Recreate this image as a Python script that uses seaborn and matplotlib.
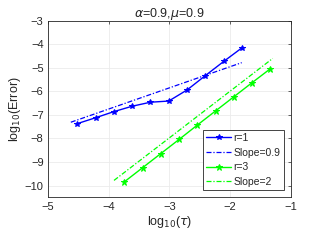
import numpy as np
import pandas as pd
import matplotlib
matplotlib.use("Agg")
import matplotlib.pyplot as plt
import seaborn as sns

# data
x_r1 = [-4.515, -4.214, -3.913, -3.612, -3.311, -3.010, -2.709, -2.408, -2.107, -1.806]
y_r1 = [-7.37, -7.12, -6.86, -6.63, -6.46, -6.41, -5.94, -5.33, -4.73, -4.15]
x_s1 = [-4.62, -1.81]
y_s1 = [-7.31, -4.78]
x_r3 = [-3.74, -3.44, -3.14, -2.84, -2.54, -2.24, -1.94, -1.64, -1.34]
y_r3 = [-9.84, -9.24, -8.64, -8.04, -7.43, -6.83, -6.23, -5.63, -5.04]
x_s2 = [-3.91, -1.30]
y_s2 = [-9.78, -4.60]
labels = ["r=1", "Slope=0.9", "r=3", "Slope=2"]

sns.set_style("whitegrid")
plt.rcParams['font.family'] = ['Liberation Sans', 'DejaVu Sans']
plt.rcParams['mathtext.fontset'] = 'dejavusans'

fig = plt.figure(figsize=(3.21, 2.41), dpi=100)
ax = fig.add_axes([0.1486, 0.181, 0.7579, 0.733])

blue = (0, 0, 1)
green = (0, 1, 0)
dd = (4, 1.5, 1, 1.5)
sns.lineplot(x=x_r1, y=y_r1, ax=ax, color=blue, lw=1, marker='*', markersize=4,
             markeredgecolor=blue, label=labels[0], sort=False)
sns.lineplot(x=x_s1, y=y_s1, ax=ax, color=blue, lw=0.9, label=labels[1], sort=False)
ax.lines[-1].set_dashes(dd)
sns.lineplot(x=x_r3, y=y_r3, ax=ax, color=green, lw=1, marker='*', markersize=5,
             markeredgecolor=green, label=labels[2], sort=False)
sns.lineplot(x=x_s2, y=y_s2, ax=ax, color=green, lw=0.9, label=labels[3], sort=False)
ax.lines[-1].set_dashes(dd)

ax.set_xlim(-5, -1)
ax.set_ylim(-10.5, -3)
ax.set_xticks([-5, -4, -3, -2, -1])
ax.set_yticks([-3, -4, -5, -6, -7, -8, -9, -10])
ax.grid(True, color=(0.92, 0.92, 0.92), lw=0.6)
for s in ax.spines.values():
    s.set_color((0.15, 0.15, 0.15))
    s.set_linewidth(0.6)
ax.tick_params(direction='in', length=2, width=0.5, labelsize=8, colors=(0.15, 0.15, 0.15),
               top=True, right=True, pad=3)
for t in ax.get_xticklabels() + ax.get_yticklabels():
    t.set_color((0.15, 0.15, 0.15))
ax.set_xlabel(r"log$_{10}$($\tau$)", fontsize=9, labelpad=2)
ax.set_ylabel(r"log$_{10}$(Error)", fontsize=9, labelpad=1)
ax.set_title(r"$\alpha$=0.9,$\mu$=0.9", fontsize=9, pad=3)

leg = ax.legend(loc='lower right', fontsize=7.5, frameon=True, fancybox=False,
                framealpha=1, edgecolor=(0.15, 0.15, 0.15), handlelength=2.4,
                handletextpad=0.2, borderpad=0.3, labelspacing=0.45,
                borderaxespad=0.7)
leg.get_frame().set_linewidth(0.6)
for h in leg.get_lines()[1::2]:
    h.set_dashes(dd)

fig.savefig("out.png", dpi=100)
